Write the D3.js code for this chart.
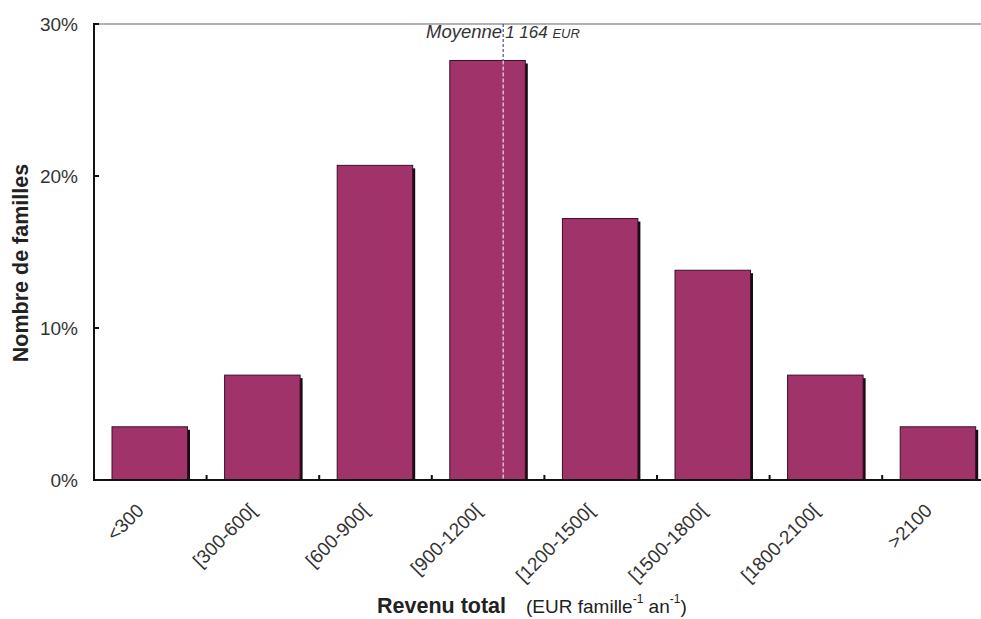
<!DOCTYPE html>
<html><head><meta charset="utf-8">
<script src="https://cdn.jsdelivr.net/npm/d3@7"></script>
<style>body{margin:0;background:#fff}svg{display:block}text{font-family:"Liberation Sans",Arial,sans-serif}</style>
</head><body><svg id="c" width="981" height="619"></svg>
<script>
const categories = ["<300","[300-600[","[600-900[","[900-1200[","[1200-1500[","[1500-1800[","[1800-2100[",">2100"];
const values = [3.5, 6.9, 20.7, 27.6, 17.2, 13.8, 6.9, 3.5];
const yTicks = [0, 10, 20, 30];
const meanValue = 1164;
const meanClass = "[900-1200[";
const classStart = 900, classEnd = 1200;

(function(){
const svg = d3.select("#c");
const mLeft = 94, mTop = 24, mBottom = 480, bandW = 112.6;
const x = d3.scaleBand().domain(categories).range([mLeft, mLeft + bandW*categories.length]).paddingInner(0).paddingOuter(0);
const y = d3.scaleLinear().domain([0, 30]).range([mBottom, mTop]);
const barOff = 18, barW = 75.5;
const col = "#A0336A";

// top frame line
svg.append("line").attr("x1", mLeft).attr("x2", 981).attr("y1", y(30)).attr("y2", y(30))
  .attr("stroke", "#999").attr("stroke-width", 1.5);

// bars with shadow
const g = svg.append("g");
categories.forEach((c, i) => {
  const bx = x(c) + barOff, by = y(values[i]);
  g.append("rect").attr("x", bx + 2.5).attr("y", by + 3).attr("width", barW).attr("height", mBottom - by - 3).attr("fill", "#1a0a12");
  g.append("rect").attr("x", bx).attr("y", by).attr("width", barW).attr("height", mBottom - by)
    .attr("fill", col).attr("stroke", "#3a1026").attr("stroke-width", 1);
});

// mean line
const xm = x(meanClass) + x.bandwidth() * ((meanValue - classStart) / (classEnd - classStart)) * 0.72;
const mi = categories.indexOf(meanClass);
svg.append("line").attr("x1", xm).attr("x2", xm).attr("y1", y(30)).attr("y2", y(values[mi]))
  .attr("stroke", "#2a2a6a").attr("stroke-width", 1).attr("stroke-dasharray", "3,2");
svg.append("line").attr("x1", xm).attr("x2", xm).attr("y1", y(values[mi])).attr("y2", mBottom)
  .attr("stroke", "#fff").attr("stroke-width", 1).attr("stroke-dasharray", "4,2");
svg.append("text").attr("x", xm - 1).attr("y", 38).attr("text-anchor", "end")
  .attr("font-style", "italic").attr("font-size", 18.5).attr("fill", "#333").text("Moyenne");
const mt2 = svg.append("text").attr("x", xm + 2).attr("y", 38)
  .attr("font-style", "italic").attr("font-size", 17).attr("fill", "#333");
mt2.append("tspan").text(d3.format(",")(meanValue).replace(",", " ") + " ");
mt2.append("tspan").attr("font-size", 13).text("EUR");

// y axis
svg.append("line").attr("x1", mLeft).attr("x2", mLeft).attr("y1", y(30) - 1).attr("y2", mBottom + 1)
  .attr("stroke", "#111").attr("stroke-width", 2);
const ya = svg.append("g");
yTicks.forEach(t => {
  ya.append("line").attr("x1", mLeft).attr("x2", mLeft + 5).attr("y1", y(t)).attr("y2", y(t)).attr("stroke", "#111").attr("stroke-width", 2);
  ya.append("text").attr("x", 78).attr("y", y(t) + 6.5).attr("text-anchor", "end").attr("font-size", 19).attr("fill", "#333").text(t + "%");
});

// x axis
svg.append("line").attr("x1", mLeft - 1).attr("x2", 981).attr("y1", mBottom).attr("y2", mBottom)
  .attr("stroke", "#111").attr("stroke-width", 2);
categories.forEach((c, i) => {
  if (i > 0) svg.append("line").attr("x1", x(c)).attr("x2", x(c)).attr("y1", mBottom).attr("y2", mBottom - 5).attr("stroke", "#111").attr("stroke-width", 2);
  const cx = x(c) + x.bandwidth()/2 - 10, cy = 507;
  svg.append("text").attr("transform", `translate(${cx},${cy}) rotate(-45)`).attr("text-anchor", "end")
    .attr("font-size", 19).attr("fill", "#333").attr("dy", "0.35em").text(c);
});

// titles
svg.append("text").attr("transform", "translate(28,263) rotate(-90)").attr("text-anchor", "middle")
  .attr("font-size", 21.5).attr("font-weight", "bold").attr("fill", "#222").text("Nombre de familles");
const xt = svg.append("text").attr("x", 377).attr("y", 613).attr("fill", "#222");
xt.append("tspan").attr("font-size", 21.5).attr("font-weight", "bold").text("Revenu total");
xt.append("tspan").attr("font-size", 19).attr("dx", 20).text("(EUR famille");
xt.append("tspan").attr("font-size", 12).attr("dy", -10).text("-1");
xt.append("tspan").attr("font-size", 19).attr("dy", 10).text(" an");
xt.append("tspan").attr("font-size", 12).attr("dy", -10).text("-1");
xt.append("tspan").attr("font-size", 19).attr("dy", 10).text(")");
})();
</script></body></html>
